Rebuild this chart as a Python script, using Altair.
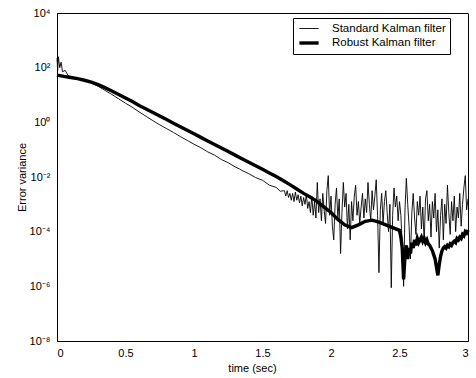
import altair as alt
import pandas as pd

# Standard Kalman filter: time (sec) and log10 of error variance
std_t = [0, 0.005, 0.01, 0.02, 0.03, 0.04, 0.06, 0.08, 0.1, 0.15, 0.2, 0.25, 0.3, 0.35, 0.4,
         0.45, 0.5, 0.55, 0.6, 0.65, 0.7, 0.75, 0.8, 0.85, 0.9, 0.95, 1.0, 1.05, 1.1, 1.15,
         1.2, 1.25, 1.3, 1.33, 1.35, 1.4, 1.45, 1.5, 1.55, 1.6, 1.63,
         1.66, 1.67, 1.68, 1.69, 1.70, 1.71, 1.72, 1.73, 1.74, 1.75, 1.76, 1.77, 1.78, 1.79,
         1.80, 1.81, 1.82, 1.83, 1.84, 1.85, 1.86, 1.87, 1.88, 1.89, 1.90, 1.91, 1.92, 1.93,
         1.94, 1.95, 1.96, 1.97, 1.98, 1.99, 2.00, 2.01, 2.02, 2.03, 2.04, 2.05, 2.06, 2.07,
         2.08, 2.09, 2.10, 2.11, 2.12, 2.13, 2.14, 2.15, 2.16, 2.17, 2.18, 2.19, 2.20, 2.21,
         2.22, 2.23, 2.24, 2.25, 2.26, 2.27, 2.28, 2.29, 2.30, 2.31, 2.32, 2.33, 2.34, 2.35,
         2.36, 2.37, 2.38, 2.39, 2.40, 2.41, 2.42, 2.43, 2.44, 2.45, 2.46, 2.47, 2.48, 2.49,
         2.50, 2.51, 2.52, 2.53, 2.54, 2.55, 2.56, 2.57, 2.58, 2.59, 2.60, 2.61, 2.62, 2.63,
         2.64, 2.65, 2.66, 2.67, 2.68, 2.69, 2.70, 2.71, 2.72, 2.73, 2.74, 2.75, 2.76, 2.77,
         2.78, 2.79, 2.80, 2.81, 2.82, 2.83, 2.84, 2.85, 2.86, 2.87, 2.88, 2.89, 2.90, 2.91,
         2.92, 2.93, 2.94, 2.95, 2.96, 2.97, 2.98, 2.99, 3.00]
std_log10 = [2.35, 1.9, 2.4, 2.0, 2.2, 1.85, 1.9, 1.72, 1.66, 1.60, 1.53, 1.44, 1.32, 1.17, 1.02,
             0.86, 0.70, 0.55, 0.38, 0.22, 0.06, -0.09, -0.23, -0.37, -0.52, -0.66, -0.80, -0.93, -1.08, -1.20,
             -1.36, -1.48, -1.63, -1.70, -1.76, -1.88, -2.02, -2.12, -2.30, -2.38, -2.52,
             -2.5, -2.7, -2.5, -2.75, -2.6, -2.85, -2.6, -2.9, -2.55, -2.85, -2.65, -2.95, -2.7, -3.05,
             -2.75, -3.0, -2.65, -3.15, -2.9, -3.3, -2.7, -3.4, -2.9, -3.5, -2.2, -3.3, -2.8, -3.6,
             -2.6, -3.2, -3.7, -2.5, -1.95, -3.4, -2.7, -3.8, -4.3, -3.0, -2.4, -3.5, -2.8, -4.8,
             -3.3, -2.2, -3.1, -2.6, -3.9, -3.0, -4.3, -2.9, -3.6, -2.7, -2.3, -3.4, -2.9, -3.7,
             -3.1, -2.6, -3.5, -2.8, -3.3, -2.2, -3.0, -3.6, -2.5, -3.2, -2.7, -2.1, -3.4, -5.5,
             -3.2, -2.6, -3.7, -2.9, -2.5, -3.3, -4.0, -3.0, -6.05, -3.4, -2.4, -3.1, -2.7, -3.6,
             -2.9, -3.4, -4.5, -6.0, -3.2, -2.05, -3.0, -3.8, -5.0, -3.3, -2.6, -3.5, -4.1, -2.9,
             -3.4, -2.7, -3.9, -3.1, -4.4, -2.8, -2.5, -3.6, -3.0, -4.2, -2.9, -3.5, -2.6, -4.0,
             -3.2, -4.6, -3.4, -2.8, -4.3, -3.0, -3.7, -2.3, -3.3, -4.1, -2.9, -3.6, -2.7, -4.0,
             -3.1, -3.5, -2.6, -3.8, -3.0, -2.4, -1.95, -3.2, -2.8]

# Robust Kalman filter
rob_t = [0, 0.05, 0.1, 0.15, 0.2, 0.25, 0.3, 0.35, 0.4, 0.45, 0.5, 0.55, 0.6, 0.65, 0.7,
         0.75, 0.8, 0.85, 0.9, 0.95, 1.0, 1.05, 1.1, 1.15, 1.2, 1.25, 1.3, 1.35, 1.4, 1.45,
         1.5, 1.55, 1.6, 1.65, 1.7, 1.75, 1.8, 1.85, 1.9, 1.95, 2.0, 2.05, 2.1, 2.15, 2.2,
         2.25, 2.3, 2.35, 2.4, 2.45, 2.50, 2.51, 2.52, 2.53, 2.54, 2.55, 2.56, 2.57, 2.58,
         2.59, 2.60, 2.61, 2.62, 2.63, 2.64, 2.65, 2.66, 2.67, 2.68, 2.69, 2.70, 2.71, 2.72,
         2.73, 2.74, 2.75, 2.76, 2.77, 2.78, 2.79, 2.80, 2.81, 2.82, 2.83, 2.84, 2.85, 2.86,
         2.87, 2.88, 2.89, 2.90, 2.91, 2.92, 2.93, 2.94, 2.95, 2.96, 2.97, 2.98, 2.99, 3.00]
rob_log10 = [1.73, 1.68, 1.64, 1.60, 1.54, 1.47, 1.38, 1.27, 1.15, 1.02, 0.89, 0.76, 0.62, 0.49, 0.36,
             0.23, 0.10, -0.03, -0.16, -0.29, -0.42, -0.55, -0.68, -0.81, -0.94, -1.07, -1.20, -1.33, -1.46, -1.59,
             -1.72, -1.85, -1.98, -2.13, -2.28, -2.44, -2.60, -2.74, -2.90, -3.10, -3.30, -3.55, -3.75, -3.85, -3.75,
             -3.62, -3.58, -3.65, -3.75, -3.85, -3.95, -4.2, -4.6, -5.75, -4.9, -4.5, -5.0, -4.6, -4.8,
             -4.4, -4.6, -4.3, -4.5, -4.25, -4.4, -4.3, -4.2, -4.35, -4.25, -4.4, -4.3, -4.45, -4.5,
             -4.6, -4.7, -4.85, -5.0, -5.3, -5.6, -5.2, -4.9, -4.7, -4.6, -4.55, -4.6, -4.5, -4.55,
             -4.45, -4.5, -4.4, -4.35, -4.4, -4.25, -4.3, -4.2, -4.25, -4.1, -4.15, -4.0, -4.05, -3.94]

series = ["Standard Kalman filter", "Robust Kalman filter"]
y_ticks = [1e-8, 1e-6, 1e-4, 1e-2, 1e0, 1e2, 1e4]
x_ticks = [0, 0.5, 1, 1.5, 2, 2.5, 3]

df = pd.concat([
    pd.DataFrame({"t": std_t, "v": [10 ** e for e in std_log10], "series": series[0]}),
    pd.DataFrame({"t": rob_t, "v": [10 ** e for e in rob_log10], "series": series[1]}),
])

ex = "round(log(datum.value)/LN10)"
label_expr = ("'10' + (" + ex + " == 4 ? '⁴' : " + ex + " == 2 ? '²' : " + ex + " == 0 ? '⁰' : "
              + ex + " == -2 ? '⁻²' : " + ex + " == -4 ? '⁻⁴' : " + ex + " == -6 ? '⁻⁶' : '⁻⁸')")

FONT = "Liberation Sans"

chart = alt.Chart(df).mark_line(color="black", interpolate="linear").encode(
    x=alt.X("t:Q", scale=alt.Scale(domain=[0, 3], nice=False, zero=False),
            axis=alt.Axis(values=x_ticks, format="~g", title="time (sec)", tickSize=0,
                          labelPadding=6, titleX=195, titleY=21, titleFontWeight="normal")),
    y=alt.Y("v:Q", scale=alt.Scale(type="log", domain=[1e-8, 1e4], nice=False),
            axis=alt.Axis(values=y_ticks, labelExpr=label_expr, title="Error variance", tickSize=0,
                          labelPadding=7, titleX=-35, titleY=164, titleAngle=270,
                          titleAlign="center", titleBaseline="middle", titleFontWeight="normal")),
    strokeWidth=alt.StrokeWidth("series:O", sort=series,
                                scale=alt.Scale(domain=series, range=[0.9, 3.4]),
                                legend=alt.Legend(orient="none", legendX=236, legendY=5, title=None,
                                                  symbolType="M-1.6,0H1.6", symbolStrokeColor="black",
                                                  symbolSize=144, symbolOffset=4,
                                                  labelFont=FONT, labelFontSize=11.5,
                                                  labelColor="black", strokeColor="black",
                                                  fillColor="white", padding=4, labelOffset=15,
                                                  rowPadding=1)),
    order=alt.Order("t:Q"),
).properties(
    width=411, height=328,
    padding={"left": 57, "top": 13, "right": 8, "bottom": 37},
    autosize=alt.AutoSizeParams(type="none"),
    background="white",
).configure_view(
    stroke="black", strokeWidth=1
).configure_axis(
    grid=False, domainColor="black", labelColor="black", titleColor="black",
    labelFont=FONT, titleFont=FONT, labelFontSize=11, titleFontSize=11,
)

chart.save("out.html", embed_options={"renderer": "svg", "actions": False})
